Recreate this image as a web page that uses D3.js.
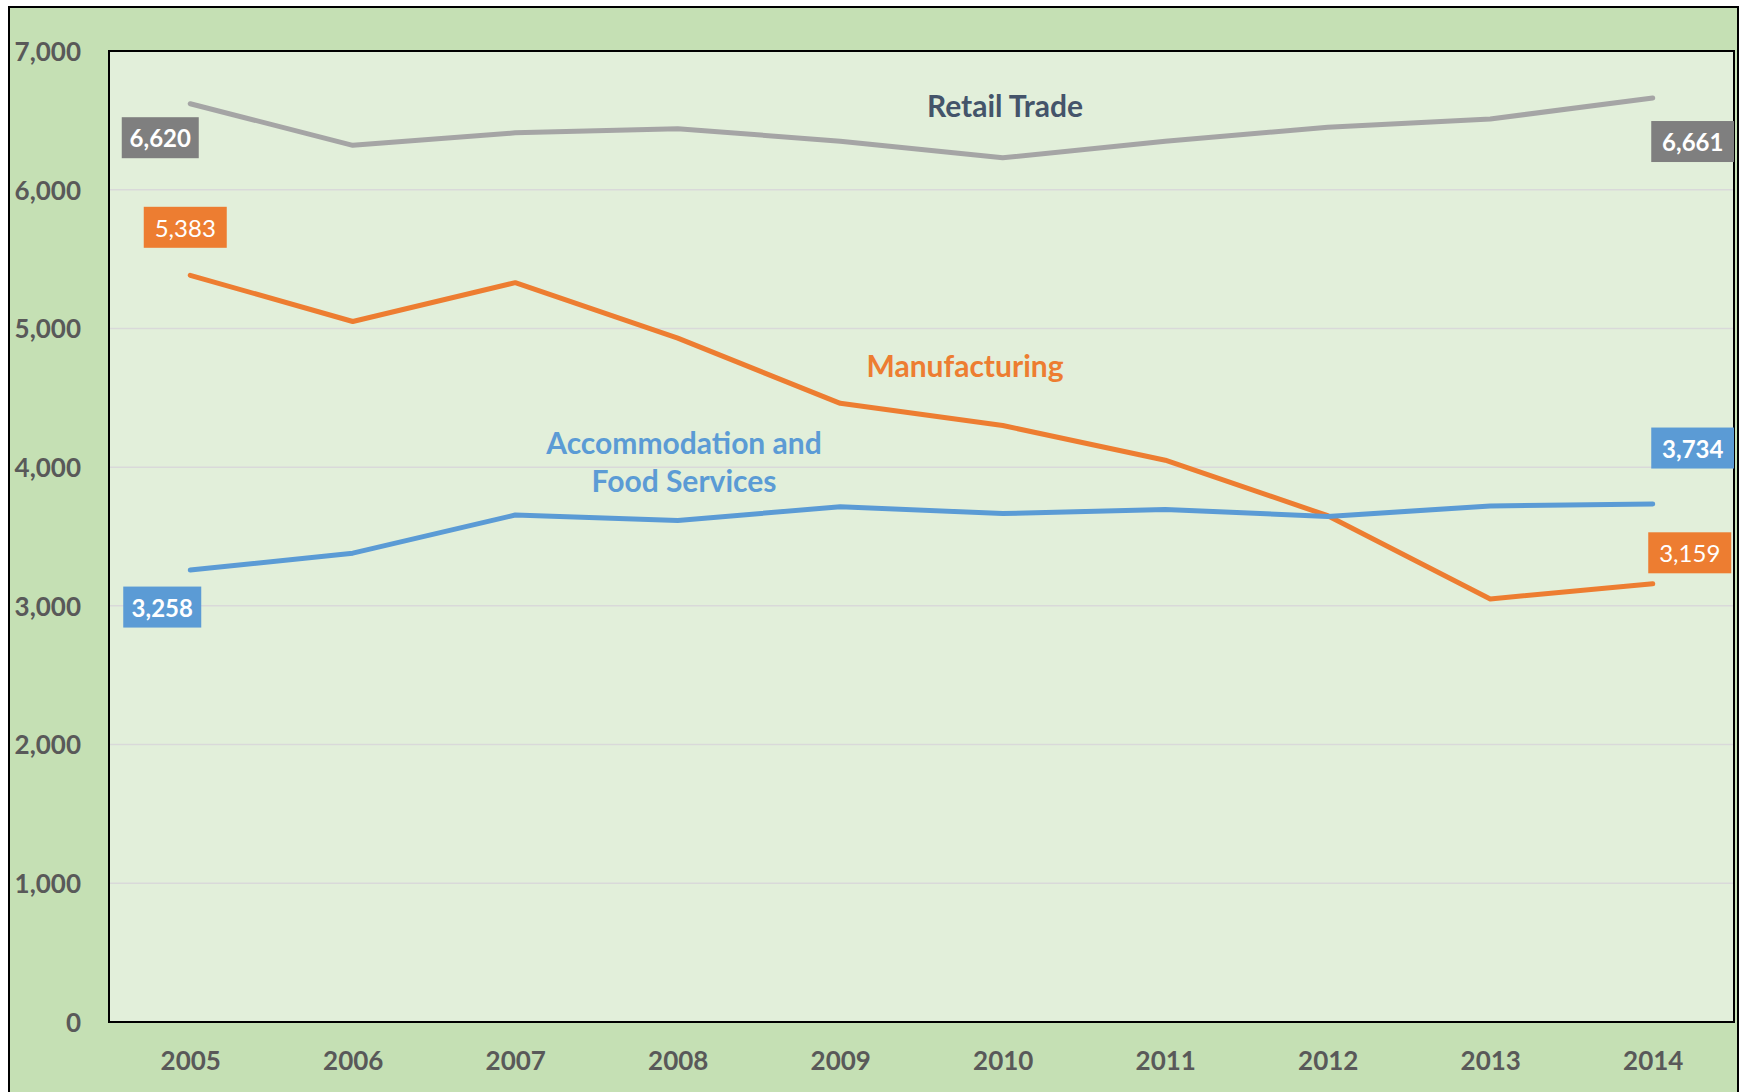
<!DOCTYPE html>
<html>
<head>
<meta charset="utf-8">
<script src="https://cdn.jsdelivr.net/npm/d3@7"></script>
<style>
  html, body { margin: 0; padding: 0; background: #ffffff; }
  svg { display: block; }
</style>
</head>
<body>
<svg id="chart" width="1745" height="1092"></svg>
<script>
const years = ["2005","2006","2007","2008","2009","2010","2011","2012","2013","2014"];
const retailTrade = [6620, 6320, 6410, 6440, 6350, 6230, 6350, 6450, 6510, 6661];
const manufacturing = [5383, 5050, 5330, 4930, 4460, 4300, 4050, 3650, 3050, 3159];
const accommodation = [3258, 3380, 3655, 3615, 3715, 3665, 3695, 3645, 3720, 3734];
const yTicks = [0, 1000, 2000, 3000, 4000, 5000, 6000, 7000];

const series = [
  { name: ["Retail Trade"], values: retailTrade, color: "#A5A5A5", box: "#7F7F7F", nameColor: "#44546A",
    nameAt: [1005, 105], boldLabel: true,
    first: { dx: -30, dy: 34, w: 77 }, last: { dx: 40, dy: 43.5, w: 83 } },
  { name: ["Manufacturing"], values: manufacturing, color: "#ED7D31", box: "#ED7D31", nameColor: "#ED7D31",
    nameAt: [965, 365], boldLabel: false,
    first: { dx: -5, dy: -48, w: 83 }, last: { dx: 37, dy: -31, w: 83 } },
  { name: ["Accommodation and", "Food Services"], values: accommodation, color: "#5B9BD5", box: "#5B9BD5", nameColor: "#5B9BD5",
    nameAt: [684, 442], boldLabel: true,
    first: { dx: -28, dy: 37, w: 78 }, last: { dx: 40, dy: -56, w: 83 } }
];

const svg = d3.select("#chart");
const font = "Lato, 'Open Sans', sans-serif";
const plot = { left: 109, right: 1734, top: 51, bottom: 1022 };

// outer background
svg.append("rect").attr("x", 9).attr("y", 7).attr("width", 1729).attr("height", 1100)
  .attr("fill", "#C5E0B4").attr("stroke", "#000").attr("stroke-width", 2);

// plot area
svg.append("rect").attr("x", plot.left).attr("y", plot.top)
  .attr("width", plot.right - plot.left).attr("height", plot.bottom - plot.top)
  .attr("fill", "#E2EFDA");

const x = d3.scalePoint().domain(years).range([plot.left, plot.right]).padding(0.5);
const y = d3.scaleLinear().domain([0, 7000]).range([plot.bottom, plot.top]);

// gridlines
svg.append("g").selectAll("line").data(yTicks.filter(t => t > 0 && t < 7000)).join("line")
  .attr("x1", plot.left).attr("x2", plot.right)
  .attr("y1", d => y(d)).attr("y2", d => y(d))
  .attr("stroke", "#D9D9D9").attr("stroke-width", 1.5);

// Y axis labels
const yAxis = d3.axisLeft(y).tickValues(yTicks).tickFormat(d3.format(",")).tickSize(0).tickPadding(28);
const gy = svg.append("g").attr("transform", `translate(${plot.left},0)`).call(yAxis);
gy.select(".domain").remove();
gy.selectAll("text").attr("font-family", font).attr("font-weight", "bold")
  .attr("font-size", 26).attr("fill", "#595959").attr("dy", "0.36em");

// X axis labels
const xAxis = d3.axisBottom(x).tickSize(0).tickPadding(29);
const gx = svg.append("g").attr("transform", `translate(0,${plot.bottom})`).call(xAxis);
gx.select(".domain").remove();
gx.selectAll("text").attr("font-family", font).attr("font-weight", "bold")
  .attr("font-size", 26).attr("fill", "#595959").attr("dy", "0.72em");

// plot border
svg.append("rect").attr("x", plot.left).attr("y", plot.top)
  .attr("width", plot.right - plot.left).attr("height", plot.bottom - plot.top)
  .attr("fill", "none").attr("stroke", "#000").attr("stroke-width", 2);

const line = d3.line().x((d, i) => x(years[i])).y(d => y(d));

series.forEach(s => {
  svg.append("path").datum(s.values).attr("d", line)
    .attr("fill", "none").attr("stroke", s.color).attr("stroke-width", 5)
    .attr("stroke-linecap", "round").attr("stroke-linejoin", "round");

  // name label
  const t = svg.append("text").attr("x", s.nameAt[0]).attr("y", s.nameAt[1])
    .attr("text-anchor", "middle").attr("font-family", font).attr("font-weight", "bold")
    .attr("font-size", 30).attr("fill", s.nameColor).attr("dominant-baseline", "central");
  s.name.forEach((n, i) => {
    t.append("tspan").attr("x", s.nameAt[0]).attr("dy", i === 0 ? 0 : 38).text(n);
  });

  // data labels
  [[0, s.first], [s.values.length - 1, s.last]].forEach(([i, o]) => {
    const cx = x(years[i]) + o.dx, cy = y(s.values[i]) + o.dy;
    const h = 41;
    let bx = cx - o.w / 2;
    let bw = o.w;
    if (bx + bw > plot.right) bw = plot.right - bx;
    svg.append("rect").attr("x", bx).attr("y", cy - h / 2).attr("width", bw).attr("height", h)
      .attr("fill", s.box);
    svg.append("text").attr("x", cx).attr("y", cy)
      .attr("text-anchor", "middle").attr("dominant-baseline", "central")
      .attr("font-family", font).attr("font-weight", s.boldLabel ? "bold" : "normal")
      .attr("font-size", 24).attr("fill", "#ffffff").text(d3.format(",")(s.values[i]));
  });
});
</script>
</body>
</html>
